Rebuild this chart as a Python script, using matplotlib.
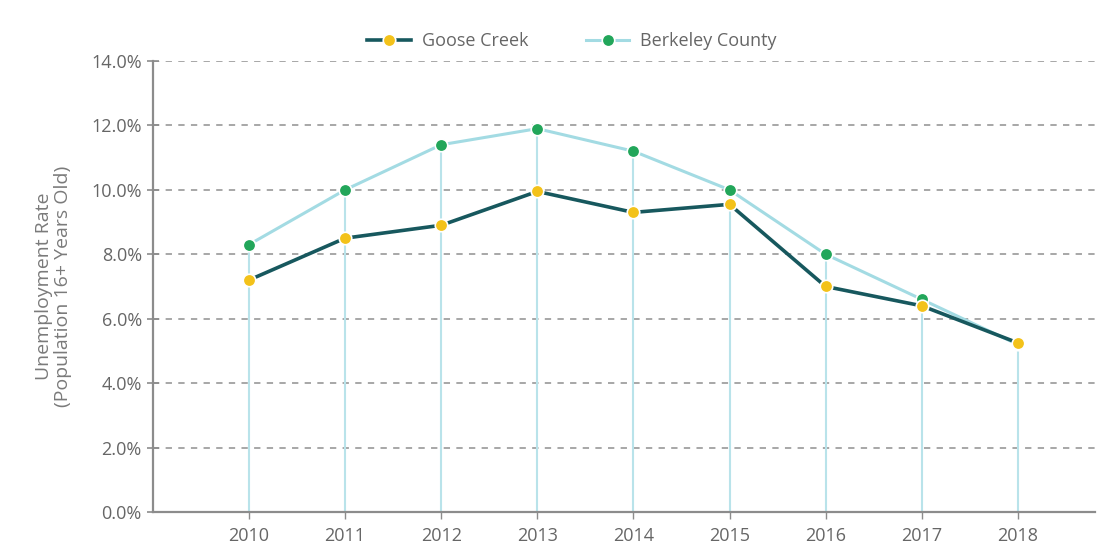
import numpy as np
import matplotlib.pyplot as plt
from matplotlib.ticker import FuncFormatter

years = [2010, 2011, 2012, 2013, 2014, 2015, 2016, 2017, 2018]
goose_creek = [7.2, 8.5, 8.9, 9.95, 9.3, 9.55, 7.0, 6.4, 5.25]
berkeley = [8.3, 10.0, 11.4, 11.9, 11.2, 10.0, 8.0, 6.6, 5.2]
y_ticks = [0, 2, 4, 6, 8, 10, 12, 14]

txt = '#7a7a7a'
plt.rcParams['font.family'] = ['Open Sans', 'DejaVu Sans']

fig = plt.figure(figsize=(11.08, 5.46), dpi=100)
ax = fig.add_axes([0.138, 0.0623, 0.85, 0.826])

# drop lines from the axis to the higher point of each year
tops = np.maximum(goose_creek, berkeley)
ax.vlines(years, 0, tops, color='#b9e3ea', lw=1.5, zorder=1)

for y in y_ticks[1:]:
    ax.axhline(y, color='#a0a0a0', lw=1.3, ls=(0, (3.5, 3.5)), zorder=0)

ax.plot(years, berkeley, color='#a3dbe3', lw=2.2, marker='o', ms=9,
        mfc='#22a65a', mec='white', mew=1.2, label='Berkeley County', zorder=3)
ax.plot(years, goose_creek, color='#17585e', lw=2.6, marker='o', ms=9,
        mfc='#f3c21a', mec='white', mew=1.2, label='Goose Creek', zorder=4)

ax.set_xlim(2009.0, 2018.8)
ax.set_ylim(0, 14)
ax.set_yticks(y_ticks)
ax.yaxis.set_major_formatter(FuncFormatter(lambda v, p: f'{v:.1f}%'))
ax.set_xticks(years)

for s in ['top', 'right']:
    ax.spines[s].set_visible(False)
for s in ['left', 'bottom']:
    ax.spines[s].set_color('#8c8c8c')
    ax.spines[s].set_linewidth(1.6)
ax.tick_params(axis='both', colors='#8c8c8c', labelcolor='#666666', labelsize=13)
ax.tick_params(axis='y', direction='inout', length=8, width=1.2, pad=4)
ax.tick_params(axis='x', direction='out', length=5, width=1.0, pad=6)

ax.set_ylabel('Unemployment Rate\n(Population 16+ Years Old)', color=txt,
              fontsize=14, labelpad=14, linespacing=1.05)

h, l = ax.get_legend_handles_labels()
ax.legend(h[::-1], l[::-1], loc='lower center', bbox_to_anchor=(0.445, 1.0),
          ncol=2, frameon=False, fontsize=13, handlelength=2.4, handletextpad=0.6,
          columnspacing=3.2, labelcolor='#666666', borderaxespad=0.2)

fig.savefig('out.png', dpi=100)
